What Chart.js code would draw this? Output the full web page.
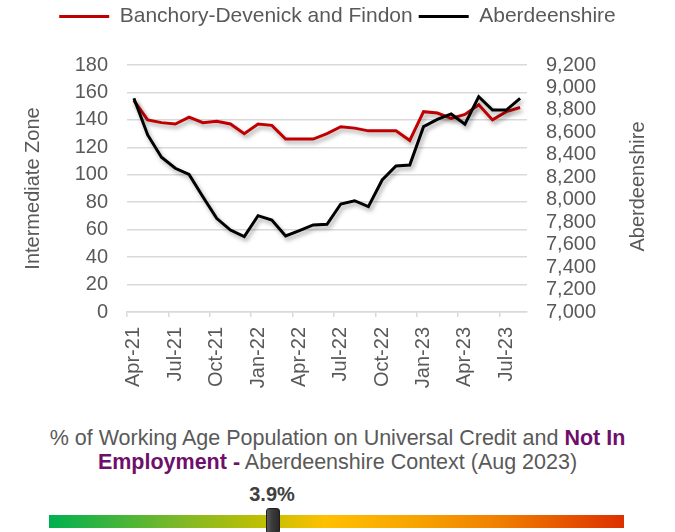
<!DOCTYPE html>
<html>
<head>
<meta charset="utf-8">
<script src="https://cdn.jsdelivr.net/npm/chart.js@4/dist/chart.umd.min.js"></script>
<style>
  html, body { margin: 0; padding: 0; background: #ffffff; }
  body { width: 675px; height: 532px; position: relative; overflow: hidden; font-family: 'Liberation Sans', Arial, sans-serif; }
  #wrap { position: absolute; left: 0; top: 0; width: 675px; height: 400px; }
  .txt { position: absolute; left: 0; width: 675px; text-align: center; font-size: 21.5px; line-height: 24px; color: #595959; white-space: nowrap; }
  .purple { color: #6e0f6b; font-weight: bold; }
  #val { position: absolute; left: 222px; width: 100px; top: 482px; text-align: center; font-size: 20px; line-height: 24px; font-weight: bold; color: #404040; }
  #bar { position: absolute; left: 49px; top: 515px; width: 575px; height: 13px;
    background: linear-gradient(to right, #00b050 0%, #7ab828 22%, #c4c000 38%, #ffc000 48%, #f8a800 62%, #f08000 78%, #dd3000 100%); }
  #marker { position: absolute; left: 266px; top: 508px; width: 14px; height: 26px; border-radius: 3px;
    background: linear-gradient(to right, #5a5a5a 0%, #3c3c3c 40%, #2a2a2a 100%); border: 1px solid #1e1e1e; box-sizing: border-box; }
</style>
</head>
<body>
<div id="wrap"><canvas id="c" width="675" height="400"></canvas></div>
<div class="txt" style="top:426px;">% of Working Age Population on Universal Credit and <span class="purple">Not In</span></div>
<div class="txt" style="top:450px;"><span class="purple">Employment -</span> Aberdeenshire Context (Aug 2023)</div>
<div id="val">3.9%</div>
<div id="bar"></div>
<div id="marker"></div>
<script>
const months = ['Apr-21','May-21','Jun-21','Jul-21','Aug-21','Sep-21','Oct-21','Nov-21','Dec-21',
  'Jan-22','Feb-22','Mar-22','Apr-22','May-22','Jun-22','Jul-22','Aug-22','Sep-22','Oct-22','Nov-22','Dec-22',
  'Jan-23','Feb-23','Mar-23','Apr-23','May-23','Jun-23','Jul-23','Aug-23'];
const zoneName = 'Banchory-Devenick and Findon';
const zoneValues = [154,140,138,137,142,138,139,137,130,137,136,126,126,126,130,135,134,132,132,132,125,146,145,141,144,151,140,146,149];
const shireName = 'Aberdeenshire';
const shireValues = [8903,8577,8378,8280,8226,8027,7834,7730,7671,7858,7819,7677,7724,7775,7781,7962,7991,7938,8176,8300,8309,8651,8716,8764,8672,8918,8799,8799,8903];
const leftTicks = {min: 0, max: 180, step: 20};
const rightTicks = {min: 7000, max: 9200, step: 200};
const leftTitle = 'Intermediate Zone';
const rightTitle = 'Aberdeenshire';

const GREY = '#595959';
const FAMILY = "'Liberation Sans', Arial, sans-serif";
const FONT = {family: FAMILY, size: 20};

const shadowPlugin = {
  id: 'lineShadow',
  beforeDatasetsDraw(chart) {
    const ctx = chart.ctx;
    ctx.save();
    ctx.shadowColor = 'rgba(0,0,0,0.35)';
    ctx.shadowBlur = 4;
    ctx.shadowOffsetX = 2;
    ctx.shadowOffsetY = 3;
  },
  afterDatasetsDraw(chart) { chart.ctx.restore(); }
};
const legendMargin = {
  id: 'legendMargin',
  beforeInit(chart) {
    const orig = chart.legend.fit;
    chart.legend.fit = function () { orig.bind(chart.legend)(); this.height = 65; };
  }
};
const rightTitlePlugin = {
  id: 'rightTitle',
  afterDraw(chart) {
    const ctx = chart.ctx, a = chart.chartArea;
    ctx.save();
    ctx.font = '20px ' + FAMILY;
    ctx.fillStyle = GREY;
    ctx.textAlign = 'center';
    ctx.textBaseline = 'middle';
    ctx.translate(638, (a.top + a.bottom) / 2 - 2);
    ctx.rotate(-Math.PI / 2);
    ctx.fillText(rightTitle, 0, 0);
    ctx.restore();
  }
};

new Chart(document.getElementById('c'), {
  type: 'line',
  data: {
    labels: months,
    datasets: [
      {label: zoneName, data: zoneValues, yAxisID: 'y', borderColor: '#c00000', backgroundColor: '#c00000',
       borderWidth: 3, pointRadius: 0, tension: 0, order: 1},
      {label: shireName, data: shireValues, yAxisID: 'y2', borderColor: '#000000', backgroundColor: '#000000',
       borderWidth: 3, pointRadius: 0, tension: 0, order: 0}
    ]
  },
  options: {
    responsive: false,
    devicePixelRatio: 1,
    animation: false,
    layout: {padding: 0},
    plugins: {
      tooltip: {enabled: false},
      legend: {
        position: 'top',
        labels: {
          color: GREY, font: {family: FAMILY, size: 21}, boxWidth: 50, boxHeight: 3, padding: 6,
          generateLabels(chart) {
            const items = Chart.defaults.plugins.legend.labels.generateLabels(chart);
            items.forEach(i => { i.lineWidth = 0; });
            items.sort((a, b) => a.datasetIndex - b.datasetIndex);
            return items;
          }
        }
      }
    },
    scales: {
      x: {
        type: 'category',
        offset: true,
        grid: {
          display: true, drawOnChartArea: false, drawTicks: true, tickLength: 5, offset: true, lineWidth: 1.5,
          color: (c) => (c.index !== undefined && c.index % 3 === 0) ? '#d9d9d9' : 'rgba(0,0,0,0)',
          tickColor: (c) => (c.index !== undefined && c.index % 3 === 0) ? '#d9d9d9' : 'rgba(0,0,0,0)'
        },
        border: {display: true, color: '#d9d9d9', width: 1.5},
        ticks: {
          autoSkip: false, minRotation: 90, maxRotation: 90, color: GREY, font: FONT, padding: 10,
          callback: (v, i) => (i % 3 === 0 ? months[i] : '')
        },
        afterFit(s) { s.height = 88; }
      },
      y: {
        position: 'left',
        min: leftTicks.min, max: leftTicks.max,
        ticks: {stepSize: leftTicks.step, autoSkip: false, color: GREY, font: FONT, padding: 19},
        grid: {color: '#d9d9d9', lineWidth: 1.5, drawTicks: false},
        border: {display: false},
        title: {display: true, text: leftTitle, color: GREY, font: FONT, padding: {top: 21, bottom: 0}},
        afterFit(s) { s.width = 127; }
      },
      y2: {
        position: 'right',
        min: rightTicks.min, max: rightTicks.max,
        ticks: {stepSize: rightTicks.step, autoSkip: false, color: GREY, font: FONT, padding: 19,
          callback: (v) => Number(v).toLocaleString('en-US')},
        grid: {display: false, drawTicks: false},
        border: {display: false},
        title: {display: false},
        afterFit(s) { s.width = 148; }
      }
    }
  },
  plugins: [shadowPlugin, legendMargin, rightTitlePlugin]
});
</script>
</body>
</html>
